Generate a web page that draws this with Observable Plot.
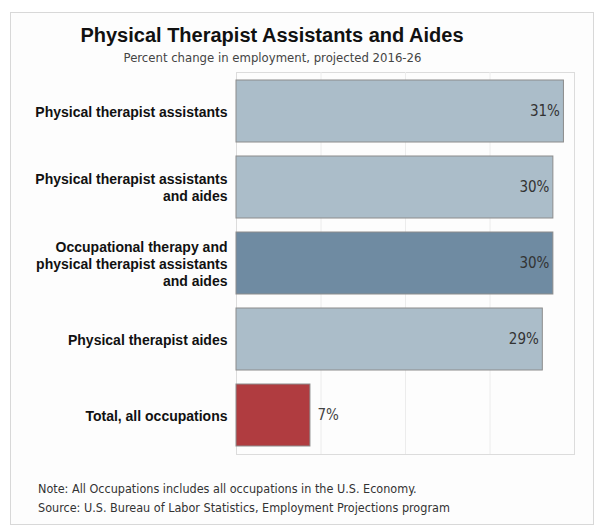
<!DOCTYPE html>
<html>
<head>
<meta charset="utf-8">
<script src="https://cdn.jsdelivr.net/npm/d3@7"></script>
<script src="https://cdn.jsdelivr.net/npm/@observablehq/plot@0.6"></script>
<style>
  html, body { margin: 0; padding: 0; background: #fff; }
  #wrap { position: relative; width: 600px; height: 532px; overflow: hidden; }
  #box { position: absolute; left: 10px; top: 12px; width: 584px; height: 513px; border: 1px solid #d8d8d8; background: #fdfdfd; box-sizing: border-box; }
  #title { position: absolute; left: 0; width: 544px; top: 22px; text-align: center; font-family: "Liberation Sans", Arial, sans-serif; font-weight: bold; font-size: 20px; color: #111; line-height: 26px; }
  #subtitle { position: absolute; left: 0; width: 545px; top: 49px; text-align: center; font-family: "DejaVu Sans Condensed", "DejaVu Sans", sans-serif; font-size: 13px; color: #444; line-height: 18px; }
  #chart { position: absolute; left: 0; top: 62px; }
  .note { position: absolute; left: 38px; font-family: "DejaVu Sans Condensed", "DejaVu Sans", sans-serif; font-size: 12.5px; color: #333; line-height: 16px; }
</style>
</head>
<body>
<div id="wrap">
  <div id="box"></div>
  <div id="title">Physical Therapist Assistants and Aides</div>
  <div id="subtitle">Percent change in employment, projected 2016-26</div>
  <div id="chart"></div>
  <div class="note" style="top:481px">Note: All Occupations includes all occupations in the U.S. Economy.</div>
  <div class="note" style="top:500px">Source: U.S. Bureau of Labor Statistics, Employment Projections program</div>
</div>
<script>
const categories = [
  "Physical therapist assistants",
  "Physical therapist assistants\nand aides",
  "Occupational therapy and\nphysical therapist assistants\nand aides",
  "Physical therapist aides",
  "Total, all occupations"
];
const values = [31, 30, 30, 29, 7];
const groups = ["detail", "detail", "group", "detail", "total"];
const valueLabels = ["31%", "30%", "30%", "29%", "7%"];
const xTicks = [8, 16, 24];

const data = categories.map((c, i) => ({
  category: c, value: values[i], group: groups[i], label: valueLabels[i]
}));

const chart = Plot.plot({
  width: 600,
  height: 400,
  marginLeft: 236,
  marginRight: 26,
  marginTop: 10,
  marginBottom: 8,
  style: { background: "transparent", overflow: "visible" },
  x: { domain: [0, 32], axis: null },
  y: { domain: categories, paddingInner: 0.18, paddingOuter: 0.08, label: null },
  color: { domain: ["detail", "group", "total"], range: ["#abbdc9", "#6f8ba2", "#b03c40"] },
  marks: [
    Plot.frame({ stroke: "#dcdcdc" }),
    Plot.ruleX(xTicks, { stroke: "#ececec" }),
    Plot.barX(data, { x: "value", y: "category", fill: "group", stroke: "#8c8c8c", strokeWidth: 1 }),
    Plot.text(data.filter(d => d.value >= 15), {
      x: "value", y: "category", text: "label", textAnchor: "end", dx: -4,
      fill: "#333", fontSize: 15, fontFamily: "DejaVu Sans Condensed, DejaVu Sans, sans-serif"
    }),
    Plot.text(data.filter(d => d.value < 15), {
      x: "value", y: "category", text: "label", textAnchor: "start", dx: 7,
      fill: "#444", fontSize: 15, fontFamily: "DejaVu Sans Condensed, DejaVu Sans, sans-serif"
    }),
    Plot.axisY({
      tickSize: 0, tickPadding: 9, fontSize: 14, fontWeight: "bold", lineHeight: 1.2,
      fontFamily: "Liberation Sans, Arial, sans-serif", fill: "#111", label: null
    })
  ]
});
document.getElementById("chart").appendChild(chart);
</script>
</body>
</html>
